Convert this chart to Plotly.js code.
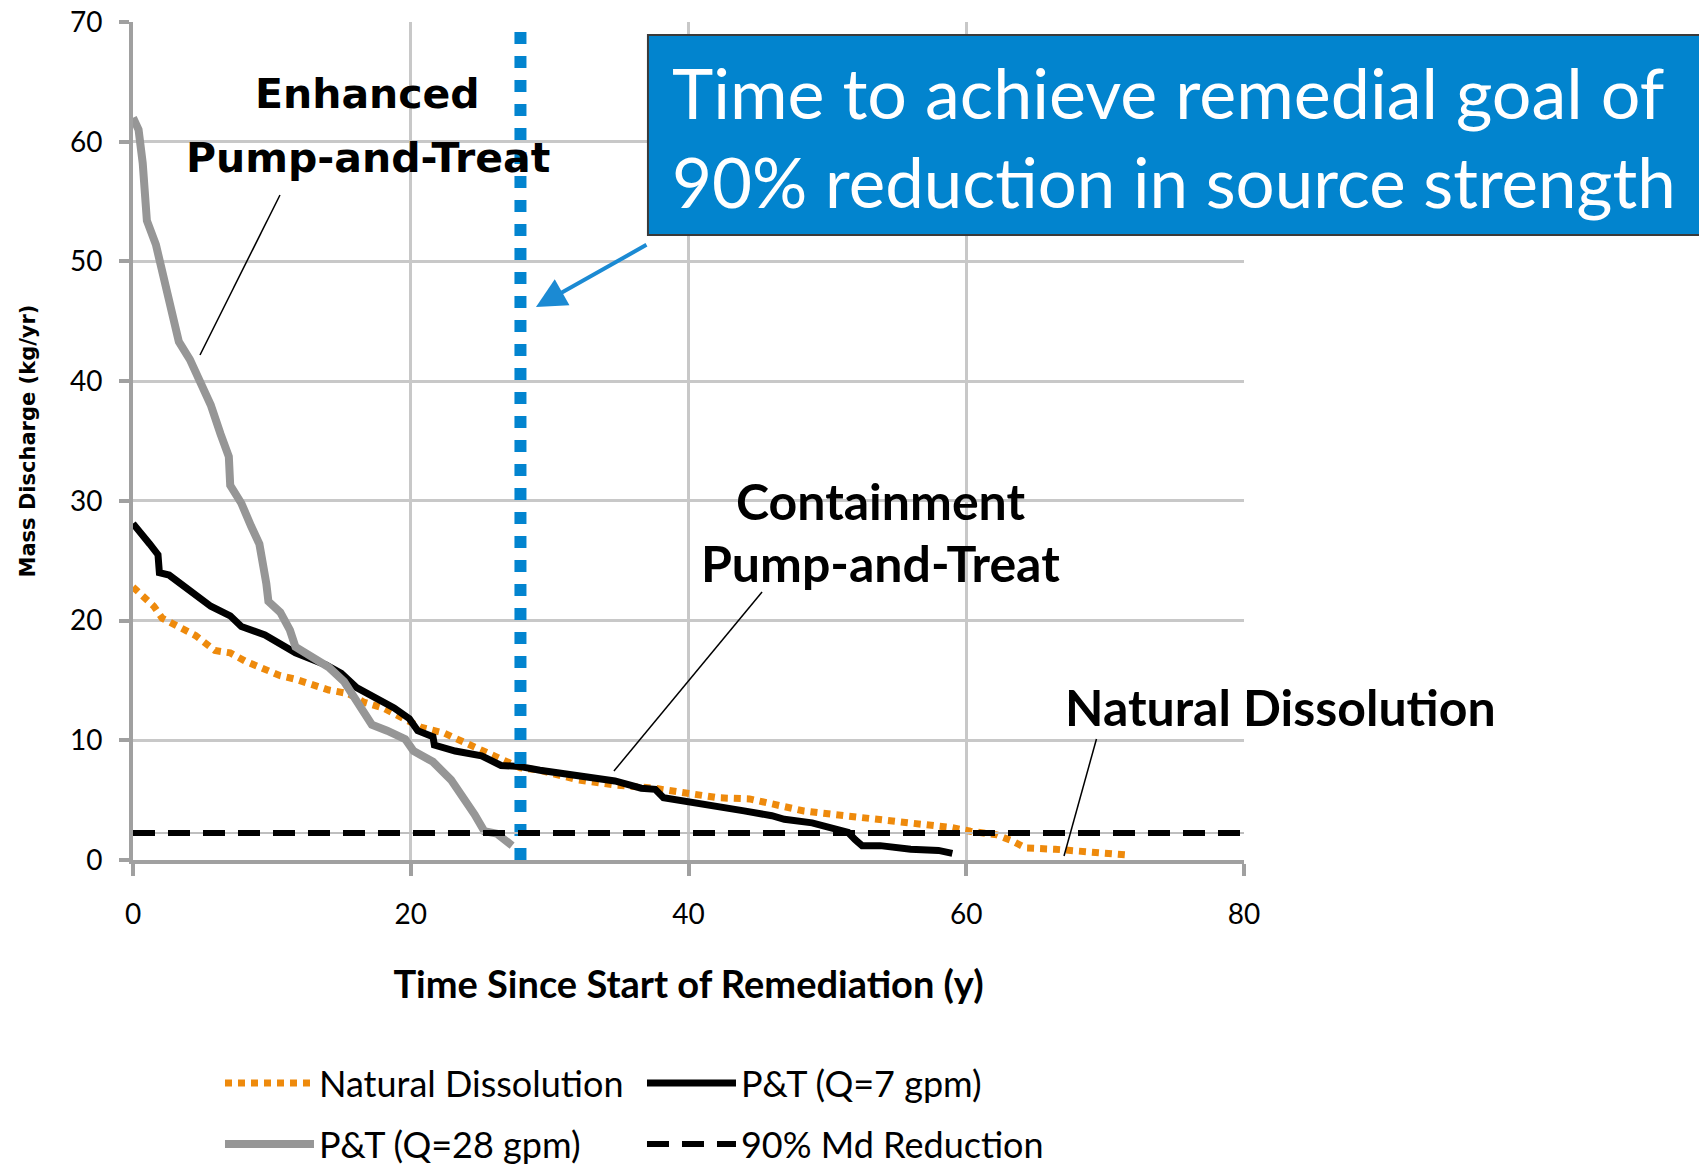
<!DOCTYPE html>
<html>
<head>
<meta charset="utf-8">
<script src="https://cdn.plot.ly/plotly-3.0.1.min.js"></script>
<style>
  html, body { margin: 0; padding: 0; background: #ffffff; }
  #chart { width: 1699px; height: 1170px; }
</style>
</head>
<body>
<div id="chart"></div>
<script>
// ---- Data ----
const naturalX = [0, 0.7, 1.5, 2.1, 3.2, 4.5, 5.9, 7.0, 8.1, 9.5, 10.6, 11.7, 12.8, 14.1, 15.5, 16.6, 18.0, 19.4, 20.7, 22.4, 23.8, 25.1, 26.2, 27.9, 29.3, 32.0, 34.8, 37.5, 39.8, 42.1, 44.4, 46.3, 48.3, 50.5, 52.8, 54.7, 56.7, 59.0, 60.3, 62.2, 63.3, 64.3, 66.4, 68.6, 70.9, 71.8];
const naturalY = [22.8, 22.1, 21.2, 20.2, 19.5, 18.75, 17.5, 17.3, 16.6, 15.9, 15.4, 15.1, 14.7, 14.2, 13.9, 13.2, 12.7, 11.8, 11.1, 10.6, 9.9, 9.1, 8.7, 7.7, 7.5, 6.7, 6.25, 6.0, 5.6, 5.2, 5.1, 4.65, 4.1, 3.8, 3.5, 3.3, 3.0, 2.7, 2.4, 2.1, 1.6, 1.0, 0.9, 0.75, 0.6, 0.4];

const pt7X = [0, 0.7, 1.2, 1.8, 1.9, 2.6, 3.7, 4.8, 5.6, 7.0, 7.8, 9.5, 11.1, 11.7, 13.9, 15.0, 16.1, 17.2, 18.8, 19.9, 20.5, 21.6, 21.7, 23.2, 25.1, 26.5, 27.9, 29.3, 32.0, 34.7, 36.6, 37.6, 38.2, 39.8, 41.8, 43.1, 44.0, 46.0, 46.9, 48.9, 50.2, 51.5, 52.0, 52.5, 53.8, 56.0, 58.0, 59.0];
const pt7Y = [28.1, 27.2, 26.4, 25.5, 24.0, 23.8, 22.8, 21.9, 21.2, 20.4, 19.5, 18.8, 17.8, 17.3, 16.3, 15.6, 14.4, 13.7, 12.7, 11.8, 10.8, 10.3, 9.6, 9.1, 8.7, 7.9, 7.8, 7.5, 7.0, 6.6, 6.0, 5.9, 5.2, 4.9, 4.5, 4.4, 4.1, 3.7, 3.4, 3.1, 2.7, 2.3, 1.7, 1.2, 1.2, 0.9, 0.8, 0.55];

const pt28X = [0, 0.4, 0.7, 1.0, 1.65, 2.06, 2.5, 3.0, 3.3, 4.1, 4.9, 5.6, 6.3, 6.9, 7.0, 7.8, 8.5, 9.1, 9.6, 9.75, 10.6, 11.3, 11.7, 12.8, 14.1, 15.2, 16.2, 16.9, 17.2, 18.3, 19.6, 20.2, 21.6, 22.9, 23.8, 24.6, 25.3, 26.2, 27.3];
const pt28Y = [62.0, 61.0, 58.2, 53.4, 51.4, 49.5, 47.1, 45.2, 43.3, 41.8, 39.9, 38.0, 35.6, 33.7, 31.3, 29.8, 27.9, 26.4, 23.1, 21.6, 20.7, 19.2, 17.8, 17.1, 16.1, 14.9, 13.2, 12.0, 11.3, 10.8, 10.1, 9.1, 8.2, 6.7, 5.3, 3.8, 2.4, 2.2, 1.2];

const goalX = [0, 80];
const goalY = [2.25, 2.25];

const remedialTimeX = [27.9, 27.9];
const remedialTimeY = [0, 70];

const xTicks = [0, 20, 40, 60, 80];
const yTicks = [0, 10, 20, 30, 40, 50, 60, 70];

const seriesNames = ['Natural Dissolution', 'P&T (Q=7 gpm)', 'P&T (Q=28 gpm)', '90% Md Reduction'];

// ---- Traces ----
const traces = [
  { x: naturalX, y: naturalY, name: seriesNames[0], type: 'scatter', mode: 'lines',
    line: { color: '#EE8A0C', width: 7, dash: '7px,6px' }, legend: 'legend' },
  { x: pt7X, y: pt7Y, name: seriesNames[1], type: 'scatter', mode: 'lines',
    line: { color: '#000000', width: 7 }, legend: 'legend' },
  { x: pt28X, y: pt28Y, name: seriesNames[2], type: 'scatter', mode: 'lines',
    line: { color: '#969696', width: 8 }, legend: 'legend2' },
  { x: remedialTimeX, y: remedialTimeY, name: 'Remedial time', type: 'scatter', mode: 'lines',
    line: { color: '#0284CF', width: 12, dash: '12px,12px' }, showlegend: false },
  { x: goalX, y: goalY, name: 'goal-thin', type: 'scatter', mode: 'lines',
    line: { color: '#BFBFBF', width: 2 }, showlegend: false },
  { x: goalX, y: goalY, name: seriesNames[3], type: 'scatter', mode: 'lines',
    line: { color: '#000000', width: 6, dash: '22px,13px' }, legend: 'legend2' }
];

const calibri = 'Lato, "Open Sans", sans-serif';

const legendBase = {
  orientation: 'h', x: 0.0783, xanchor: 'left', yanchor: 'middle',
  font: { family: calibri, size: 36, color: '#000' },
  itemwidth: 89, entrywidth: 318, entrywidthmode: 'pixels',
  bgcolor: 'rgba(0,0,0,0)', traceorder: 'normal'
};

const layout = {
  width: 1699, height: 1170,
  margin: { l: 133, r: 455, t: 22, b: 310, autoexpand: false },
  paper_bgcolor: '#ffffff', plot_bgcolor: '#ffffff',
  showlegend: true,
  xaxis: {
    range: [0, 80], tickvals: xTicks, ticktext: xTicks.map(String),
    showgrid: true, gridcolor: '#C8C8C8', gridwidth: 3,
    zeroline: false, showline: true, linecolor: '#A0A0A0', linewidth: 4,
    ticks: 'outside', ticklen: 12, tickwidth: 4, tickcolor: '#A0A0A0',
    ticklabelstandoff: 14,
    tickfont: { family: calibri, size: 28, color: '#000' },
    title: { text: 'Time Since Start of Remediation (y)', standoff: 44,
             font: { family: calibri, size: 38, color: '#000', weight: 'bold' } },
    fixedrange: true
  },
  yaxis: {
    range: [0, 70], tickvals: yTicks, ticktext: yTicks.map(String),
    showgrid: true, gridcolor: '#C8C8C8', gridwidth: 3,
    zeroline: false, showline: true, linecolor: '#A0A0A0', linewidth: 4,
    ticks: 'outside', ticklen: 10, tickwidth: 4, tickcolor: '#A0A0A0',
    ticklabelstandoff: 11,
    tickfont: { family: calibri, size: 28, color: '#000' },
    title: { text: 'Mass Discharge (kg/yr)', standoff: 30,
             font: { family: 'DejaVu Sans', size: 21, color: '#000', weight: 'bold' } },
    fixedrange: true
  },
  legend: Object.assign({}, legendBase, { y: -0.2661 }),
  legend2: Object.assign({}, legendBase, { y: -0.339 }),
  shapes: [
    // callout box
    { type: 'rect', xref: 'paper', yref: 'paper', x0: 0.4635, x1: 1.42, y0: 0.7458, y1: 0.9845,
      fillcolor: '#0284CE', line: { color: '#3A3A3A', width: 2 }, layer: 'above' },
    // leader lines
    { type: 'line', xref: 'paper', yref: 'paper', x0: 0.1323, y0: 0.7936, x1: 0.0603, y1: 0.6026,
      line: { color: '#000', width: 1.5 }, layer: 'above' },
    { type: 'line', xref: 'paper', yref: 'paper', x0: 0.5662, y0: 0.3198, x1: 0.4329, y1: 0.1062,
      line: { color: '#000', width: 1.5 }, layer: 'above' },
    { type: 'line', xref: 'paper', yref: 'paper', x0: 0.8672, y0: 0.1444, x1: 0.838, y1: 0.0048,
      line: { color: '#000', width: 1.5 }, layer: 'above' }
  ],
  annotations: [
    { xref: 'paper', yref: 'paper', x: 0.2115, y: 0.914, text: 'Enhanced', showarrow: false,
      xanchor: 'center', yanchor: 'middle', font: { family: 'DejaVu Sans', size: 41, color: '#000', weight: 'bold' } },
    { xref: 'paper', yref: 'paper', x: 0.2115, y: 0.8377, text: 'Pump-and-Treat', showarrow: false,
      xanchor: 'center', yanchor: 'middle', font: { family: 'DejaVu Sans', size: 41, color: '#000', weight: 'bold' } },
    { xref: 'paper', yref: 'paper', x: 0.6724, y: 0.4289, text: 'Containment', showarrow: false,
      xanchor: 'center', yanchor: 'middle', font: { family: calibri, size: 50, color: '#000', weight: 'bold' } },
    { xref: 'paper', yref: 'paper', x: 0.6724, y: 0.3544, text: 'Pump-and-Treat', showarrow: false,
      xanchor: 'center', yanchor: 'middle', font: { family: calibri, size: 50, color: '#000', weight: 'bold' } },
    { xref: 'paper', yref: 'paper', x: 1.0333, y: 0.182, text: 'Natural Dissolution', showarrow: false,
      xanchor: 'center', yanchor: 'middle', font: { family: calibri, size: 50, color: '#000', weight: 'bold' } },
    { xref: 'paper', yref: 'paper', x: 0.4833, y: 0.917, text: 'Time to achieve remedial goal of', showarrow: false,
      xanchor: 'left', yanchor: 'middle', font: { family: calibri, size: 70, color: '#ffffff' } },
    { xref: 'paper', yref: 'paper', x: 0.4833, y: 0.8097, text: '90% reduction in source strength', showarrow: false,
      xanchor: 'left', yanchor: 'middle', font: { family: calibri, size: 69, color: '#ffffff' } },
    { xref: 'paper', yref: 'paper', x: 0.3627, y: 0.6599, ax: 112, ay: -63, text: '', showarrow: true,
      arrowhead: 2, arrowsize: 1.5, arrowwidth: 4, arrowcolor: '#1B8AD3' }
  ]
};

Plotly.newPlot('chart', traces, layout, { displayModeBar: false, staticPlot: true });
</script>
</body>
</html>
